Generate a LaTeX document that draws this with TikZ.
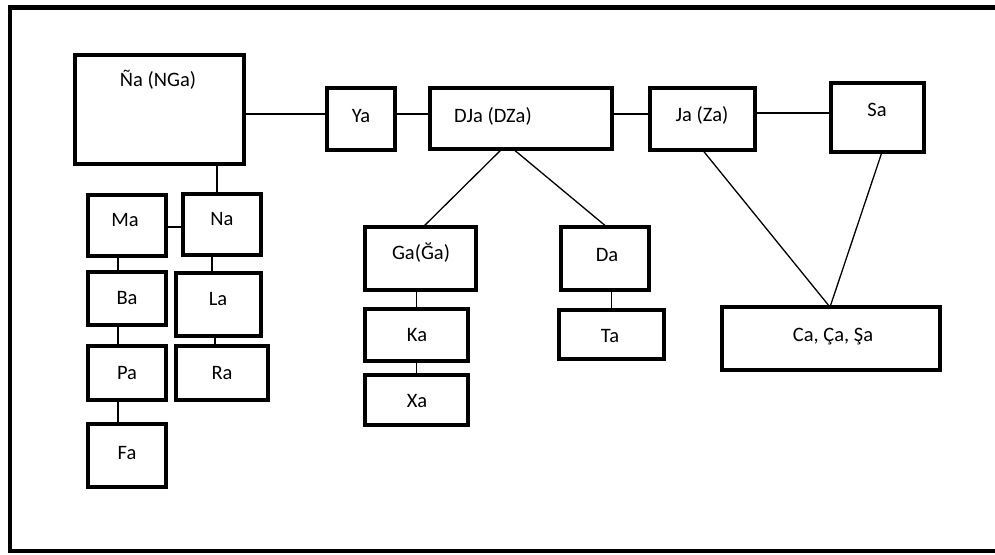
\documentclass[tikz,border=0pt]{standalone}
\usepackage{fontspec}
\setmainfont{Carlito}
\begin{document}
\begin{tikzpicture}[x=1pt, y=-1pt,
  boxline/.style={draw=black, line width=4.6pt, fill=white},
  lbl/.style={inner sep=0pt, text height=13pt, text depth=0pt,
    font=\fontsize{20.5}{24}\selectfont},
  link/.style={draw=black, line width=1.3pt},
  frame/.style={draw=black, line width=4.6pt}]
\useasboundingbox (0,0) rectangle (995,554);

% outer frame (runs off the right edge)
\draw[frame] (1010,7.5) -- (10,7.5) -- (10,551) -- (1010,551);

% box placeholders: centre and outer size, border width taken off
\foreach \n/\cx/\cy/\w/\h in {
  ngA/159.5/109.5/173/113,
  ya/361/119/72/66,
  dja/521/118.5/186/65,
  ja/702.5/119/109/66,
  sa/877.5/117.5/97/73,
  ca/831/338.5/222/67,
  ma/127/225.5/82/65,
  na/222/224.5/82/65,
  ba/127/298.5/82/57,
  la/218.5/304.5/89/67,
  pa/127/373/82/58,
  ra/222/373/96/58,
  fa/127/455.5/82/67,
  ga/420.5/258.5/115/67,
  ka/416.5/335/107/56,
  xa/416.5/400/107/54,
  da/605/258.5/92/67,
  ta/611.5/334.5/109/53}
  {\path (\cx,\cy) node[inner sep=0pt, minimum width=\w pt-4.6pt, minimum height=\h pt-4.6pt] (\n) {};}

% top row
\draw[link] ([yshift=-4.5pt]ngA.east) -- ([yshift=5pt]ya.west);
\draw[link] ([yshift=5pt]ya.east) -- ([yshift=4.5pt]dja.west);
\draw[link] ([yshift=4.5pt]dja.east) -- ([yshift=5pt]ja.west);
\draw[link] ([yshift=6pt]ja.east) -- ([yshift=4.5pt]sa.west);
% DJa branches
\draw[link] ([xshift=-19pt]dja.south) -- ([xshift=2.5pt]ga.north);
\draw[link] ([xshift=-8pt]dja.south) -- ([xshift=2pt]da.north);
% Ja and Sa down to Ca
\draw[link] (ja.south) -- ([xshift=-1pt]ca.north);
\draw[link] ([xshift=4.5pt]sa.south) -- ([xshift=-1pt]ca.north);
% left group
\draw[link] ([xshift=-5pt]na.north |- ngA.south) -- ([xshift=-5pt]na.north);
\draw[link] ([yshift=-1.5pt]ma.east) -- ([yshift=-1.5pt]ma.east -| na.west);
\draw[link] ([xshift=-9pt]ma.south) -- ([xshift=-9pt]ba.north);
\draw[link] ([xshift=-9pt]ba.south) -- ([xshift=-9pt]pa.north);
\draw[link] ([xshift=-9pt]pa.south) -- ([xshift=-9pt]fa.north);
\draw[link] ([xshift=-10pt]na.south) -- ([xshift=-10pt]na.south |- la.north);
\draw[link] ([xshift=-3.5pt]la.south) -- ([xshift=-3.5pt]la.south |- ra.north);
% middle group
\draw[link] (ka.north |- ga.south) -- (ka.north);
\draw[link] (ka.south) -- (xa.north);
\draw[link] (ta.north |- da.south) -- (ta.north);

% box outlines over the connector ends
\foreach \n in {ngA,ya,dja,ja,sa,ca,ma,na,ba,la,pa,ra,fa,ga,ka,xa,da,ta}
  {\draw[boxline] (\n.north west) rectangle (\n.south east);}

% labels
\node[lbl] (ngA-t) at (158,80) {Ña (NGa)};
\node[lbl] (ya-t) at (361,116) {Ya};
\node[lbl] (dja-t) at (493,116) {DJa (DZa)};
\node[lbl] (ja-t) at (702,115) {Ja (Za)};
\node[lbl] (sa-t) at (877,110) {Sa};
\node[lbl] (ca-t) at (833,335) {Ca, Ça, Şa};
\node[lbl] (ma-t) at (125,220) {Ma};
\node[lbl] (na-t) at (222,219) {Na};
\node[lbl] (ba-t) at (127,298) {Ba};
\node[lbl] (la-t) at (218,299) {La};
\node[lbl] (pa-t) at (127,373) {Pa};
\node[lbl] (ra-t) at (222,373) {Ra};
\node[lbl] (fa-t) at (127,453) {Fa};
\node[lbl] (ga-t) at (421,253) {Ga(Ğa)};
\node[lbl] (ka-t) at (417,335) {Ka};
\node[lbl] (xa-t) at (417,401) {Xa};
\node[lbl] (da-t) at (607,255) {Da};
\node[lbl] (ta-t) at (610,336) {Ta};
\end{tikzpicture}
\end{document}
